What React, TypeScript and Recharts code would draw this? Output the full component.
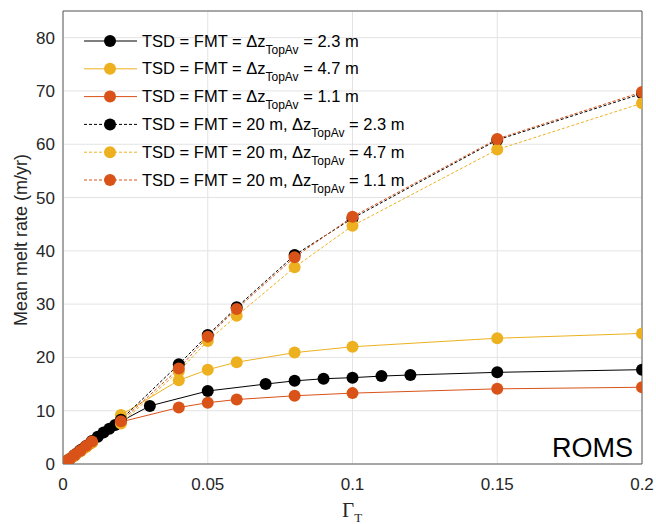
import { CartesianGrid, Legend, Line, LineChart, XAxis, YAxis } from 'recharts';

// Gamma_T values and mean melt rates (m/yr)
const xSolidBlack = [0.002, 0.004, 0.006, 0.008, 0.01, 0.012, 0.014, 0.016, 0.018, 0.02, 0.03, 0.05, 0.07, 0.08, 0.09, 0.1, 0.11, 0.12, 0.15, 0.2];
const ySolidBlack = [0.8, 1.6, 2.5, 3.3, 4.2, 5.1, 5.9, 6.6, 7.3, 8.0, 10.9, 13.7, 15.0, 15.6, 16.0, 16.2, 16.5, 16.7, 17.2, 17.7];

const xSolidYellow = [0.002, 0.004, 0.006, 0.008, 0.01, 0.02, 0.04, 0.05, 0.06, 0.08, 0.1, 0.15, 0.2];
const ySolidYellow = [0.8, 1.6, 2.5, 3.3, 4.1, 9.2, 15.7, 17.7, 19.1, 20.9, 22.0, 23.6, 24.5];

const xSolidOrange = [0.002, 0.003, 0.004, 0.005, 0.006, 0.007, 0.008, 0.009, 0.01, 0.02, 0.04, 0.05, 0.06, 0.08, 0.1, 0.15, 0.2];
const ySolidOrange = [0.8, 1.2, 1.6, 2.1, 2.5, 2.9, 3.3, 3.7, 4.1, 7.9, 10.6, 11.5, 12.1, 12.8, 13.3, 14.1, 14.4];

const xDashed = [0.002, 0.004, 0.006, 0.008, 0.01, 0.02, 0.04, 0.05, 0.06, 0.08, 0.1, 0.15, 0.2];
const yDashedBlack = [0.8, 1.7, 2.6, 3.4, 4.3, 8.3, 18.7, 24.2, 29.4, 39.2, 46.1, 60.8, 69.5];
const yDashedYellow = [0.8, 1.6, 2.4, 3.2, 4.0, 7.6, 17.4, 23.1, 27.8, 36.9, 44.7, 59.0, 67.7];
const yDashedOrange = [0.8, 1.7, 2.5, 3.4, 4.2, 8.0, 17.9, 23.9, 29.1, 38.8, 46.4, 61.0, 69.8];

const xTicks = [0, 0.05, 0.1, 0.15, 0.2];
const yTicks = [0, 10, 20, 30, 40, 50, 60, 70, 80];

const BLACK = '#000000';
const YELLOW = '#EDB120';
const ORANGE = '#D95319';
const FRAME = '#5c5c5c';
const TEXT = '#262626';
const FONT = '"Liberation Sans", Arial, Helvetica, sans-serif';

const zip = (xs: number[], ys: number[]) => xs.map((x, i) => ({ x, y: ys[i] }));

const series = [
  { key: 's1', pre: 'TSD = FMT = Δz', post: ' = 2.3 m', color: BLACK, dashed: false, data: zip(xSolidBlack, ySolidBlack) },
  { key: 's2', pre: 'TSD = FMT = Δz', post: ' = 4.7 m', color: YELLOW, dashed: false, data: zip(xSolidYellow, ySolidYellow) },
  { key: 's3', pre: 'TSD = FMT = Δz', post: ' = 1.1 m', color: ORANGE, dashed: false, data: zip(xSolidOrange, ySolidOrange) },
  { key: 'd1', pre: 'TSD = FMT = 20 m, Δz', post: ' = 2.3 m', color: BLACK, dashed: true, data: zip(xDashed, yDashedBlack) },
  { key: 'd2', pre: 'TSD = FMT = 20 m, Δz', post: ' = 4.7 m', color: YELLOW, dashed: true, data: zip(xDashed, yDashedYellow) },
  { key: 'd3', pre: 'TSD = FMT = 20 m, Δz', post: ' = 1.1 m', color: ORANGE, dashed: true, data: zip(xDashed, yDashedOrange) },
];

function LegendBox() {
  const rowH = 27.8;
  return (
    <svg width={360} height={180} style={{ display: 'block', fontFamily: FONT }}>
      {series.map((s, i) => {
        const cy = 15 + i * rowH;
        return (
          <g key={s.key}>
            <line x1={14} x2={67} y1={cy} y2={cy} stroke={s.color} strokeWidth={1} strokeDasharray={s.dashed ? '3 2' : undefined} />
            <circle cx={40} cy={cy} r={6} fill={s.color} />
            <text x={72} y={cy + 5.5} fontSize={16.5} fill="#000">
              {s.pre}
              <tspan dy={7} fontSize={12}>TopAv</tspan>
              <tspan dy={-7}>{s.post}</tspan>
            </text>
          </g>
        );
      })}
    </svg>
  );
}

export default function App() {
  return (
    <div style={{ position: 'absolute', left: 0, top: 0, width: 656, height: 524, background: '#fff', fontFamily: FONT }}>
      <LineChart width={656} height={524} data={[]} margin={{ top: 11, right: 14, bottom: 30, left: 8 }}>
        <CartesianGrid stroke="#e3e3e3" strokeWidth={1} />
        <XAxis
          dataKey="x"
          type="number"
          domain={[0, 0.2]}
          ticks={xTicks}
          allowDataOverflow
          height={30}
          tickSize={0}
          tickMargin={14}
          tickLine={false}
          axisLine={{ stroke: FRAME }}
          tick={{ fontSize: 17, fill: TEXT }}
        />
        <XAxis xAxisId="bottomIn" type="number" domain={[0, 0.2]} ticks={xTicks} allowDataOverflow mirror tick={false} tickSize={5} tickLine={{ stroke: FRAME }} axisLine={false} />
        <XAxis xAxisId="top" orientation="top" type="number" domain={[0, 0.2]} ticks={xTicks} allowDataOverflow mirror tick={false} tickSize={5} tickLine={{ stroke: FRAME }} axisLine={{ stroke: FRAME }} />
        <YAxis
          type="number"
          domain={[0, 85]}
          ticks={yTicks}
          allowDataOverflow
          width={55}
          tickSize={0}
          tickMargin={8}
          tickLine={false}
          axisLine={{ stroke: FRAME }}
          tick={{ fontSize: 17, fill: TEXT }}
        />
        <YAxis yAxisId="leftIn" type="number" domain={[0, 85]} ticks={yTicks} allowDataOverflow mirror tick={false} tickSize={5} tickLine={{ stroke: FRAME }} axisLine={false} />
        <YAxis yAxisId="right" orientation="right" type="number" domain={[0, 85]} ticks={yTicks} allowDataOverflow mirror tick={false} tickSize={5} tickLine={{ stroke: FRAME }} axisLine={{ stroke: FRAME }} />
        <Legend
          layout="vertical"
          align="center"
          verticalAlign="middle"
          wrapperStyle={{ left: 70, top: 26, width: 360 }}
          content={() => <LegendBox />}
        />
        {series.map((s) => (
          <Line
            key={s.key}
            data={s.data}
            dataKey="y"
            name={s.key}
            type="linear"
            stroke={s.color}
            strokeWidth={1}
            strokeDasharray={s.dashed ? '3 2' : undefined}
            dot={{ r: 6, fill: s.color, stroke: 'none', strokeDasharray: '' }}
            activeDot={false}
            isAnimationActive={false}
          />
        ))}
      </LineChart>
      <svg width={656} height={524} style={{ position: 'absolute', left: 0, top: 0, pointerEvents: 'none' }}>
        <text transform="translate(27,240) rotate(-90)" textAnchor="middle" fontSize={18} fill={TEXT}>
          Mean melt rate (m/yr)
        </text>
        <text x={342} y={517} fontSize={21} fill={TEXT} fontFamily='"Liberation Serif", "Times New Roman", serif'>
          Γ<tspan dy={5} fontSize={13}>T</tspan>
        </text>
        <text x={633} y={457} textAnchor="end" fontSize={27} fill="#000">
          ROMS
        </text>
      </svg>
    </div>
  );
}
